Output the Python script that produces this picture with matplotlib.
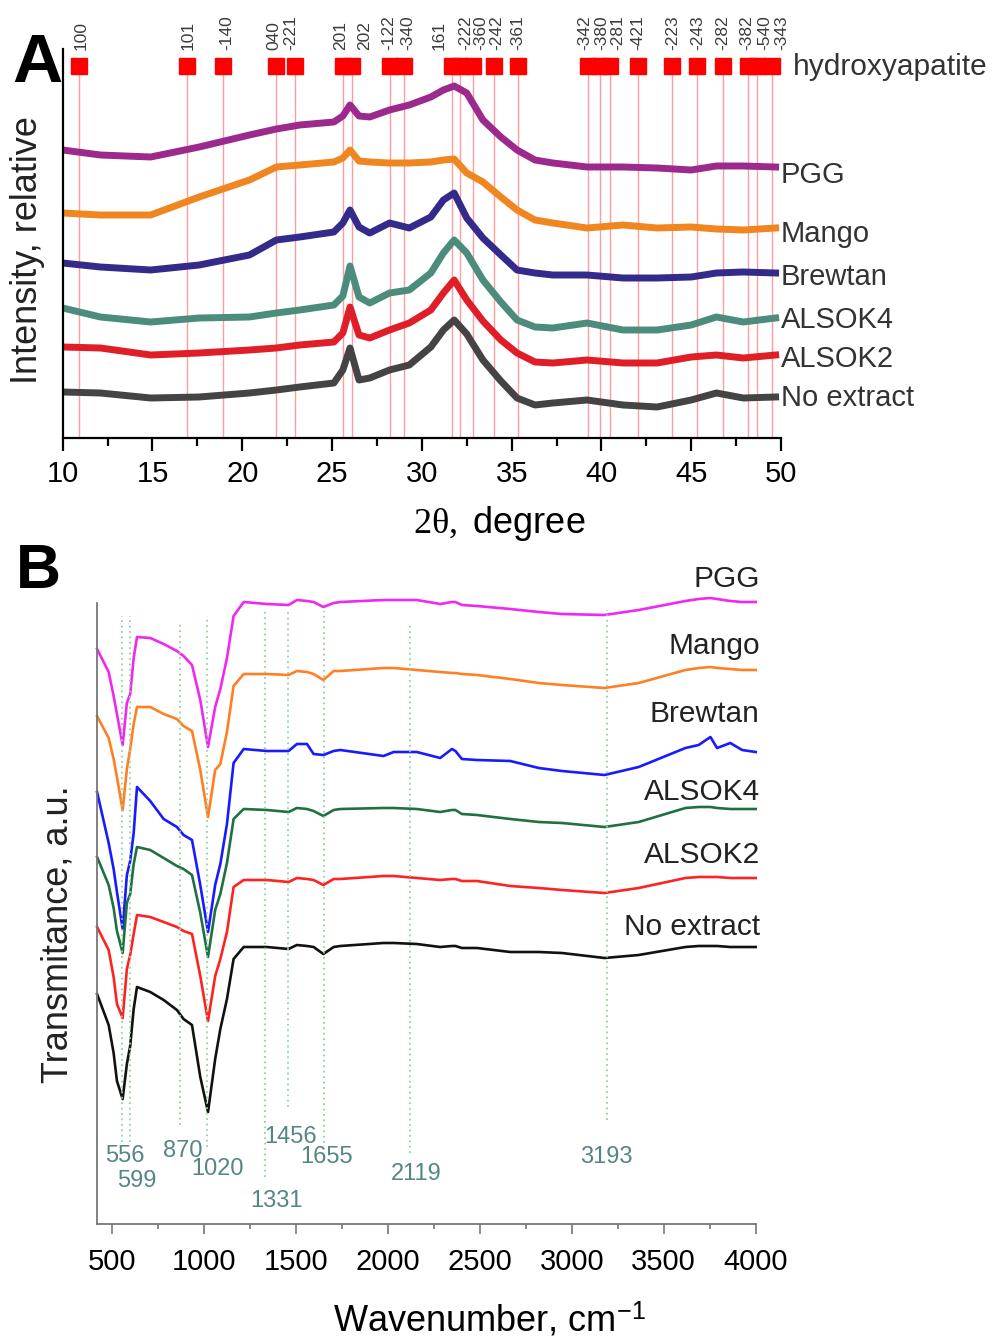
import matplotlib
matplotlib.use("Agg")
import matplotlib.pyplot as plt
from matplotlib.ticker import MultipleLocator

plt.rcParams['font.family'] = ['Liberation Sans', 'DejaVu Sans']
plt.rcParams['mathtext.fontset'] = 'custom'
plt.rcParams['mathtext.rm'] = 'Liberation Serif'
plt.rcParams['mathtext.it'] = 'Liberation Serif:italic'

# ---------------- Panel A data (XRD) ----------------
xrd_2theta = [10.0, 12.1, 14.9, 17.6, 20.4, 21.9, 23.2, 25.1, 25.6, 26.0, 26.5, 27.1, 28.2, 29.3, 30.5,
              31.2, 31.8, 32.5, 33.4, 34.4, 35.3, 36.3, 37.3, 39.2, 41.2, 43.1, 45.0, 46.4, 47.9, 49.7]
xrd_no_extract = [46, 45, 40, 41, 45, 48, 51, 55, 68, 90, 58, 60, 68, 73, 91,
                  108, 118, 104, 78, 57, 40, 33, 35, 38, 33, 31, 38, 45, 40, 41]
xrd_alsok2 = [91, 90, 83, 85, 88, 90, 93, 96, 105, 131, 103, 100, 108, 115, 128,
              145, 158, 138, 117, 98, 85, 76, 75, 78, 75, 75, 81, 83, 80, 83]
xrd_alsok4 = [130, 121, 116, 120, 121, 125, 128, 133, 142, 172, 141, 135, 145, 148, 165,
              185, 198, 185, 158, 136, 118, 111, 110, 115, 108, 108, 113, 121, 116, 120]
xrd_brewtan = [175, 171, 168, 173, 183, 198, 201, 206, 215, 228, 211, 205, 215, 210, 221,
               238, 245, 220, 200, 183, 168, 165, 163, 163, 160, 160, 161, 165, 166, 165]
xrd_mango = [225, 223, 223, 241, 258, 271, 273, 276, 280, 288, 277, 276, 275, 275, 276,
             278, 279, 265, 256, 241, 228, 218, 215, 210, 213, 210, 211, 209, 208, 210]
xrd_pgg = [288, 283, 281, 291, 303, 309, 313, 316, 322, 333, 322, 321, 328, 333, 341,
           348, 352, 345, 318, 301, 288, 278, 275, 271, 271, 270, 268, 272, 272, 271]

xrd_names = ["PGG", "Mango", "Brewtan", "ALSOK4", "ALSOK2", "No extract"]
xrd_colors = ["#9c2a8c", "#f0861f", "#342a8c", "#4b8c7c", "#e01e28", "#444444"]
xrd_label_y = [255, 196, 153, 110, 71, 32]

refl_2theta = [10.9, 16.9, 18.9, 21.9, 22.95, 25.6, 26.1, 28.2, 29.0, 31.7, 32.1, 32.85,
               34.0, 35.35, 39.25, 39.9, 40.5, 42.05, 43.95, 45.35, 46.75, 48.15, 48.65, 49.5]
refl_hkl = ['100', '101', '-140', '040', '-221', '201', '202', '-122', '-340', '161', '-222', '-360',
            '-242', '-361', '-342', '-380', '-281', '-421', '-223', '-243', '-282', '-382', '-540', '-343']
refl_label_x = [11.03, 16.96, 19.13, 21.75, 22.72, 25.48, 26.83, 28.18, 29.2, 30.95, 32.45, 33.3,
                34.15, 35.35, 39.05, 40.01, 40.9, 42.03, 43.98, 45.37, 46.76, 48.1, 49.08, 50.06]

# ---------------- Panel B data (FTIR) ----------------
ir_wn = [420, 483, 510, 528, 559, 582, 600, 619, 637, 709, 782, 854, 890, 936, 981, 1023, 1062, 1090,
         1126, 1162, 1217, 1343, 1461, 1506, 1561, 1597, 1650, 1706, 1742, 1977, 2032, 2158, 2285, 2349,
         2368, 2403, 2485, 2666, 2821, 2947, 3178, 3364, 3618, 3690, 3754, 3790, 3862, 3926, 4000]
ir_pgg = [575, 552, 528, 510, 479, 521, 530, 566, 587, 586, 580, 573, 568, 559, 524, 477, 517, 535,
          566, 608, 622, 620, 619, 624, 623, 622, 617, 621, 622, 624, 624, 624, 620, 622,
          622, 619, 618, 615, 612, 610, 609, 614, 623, 625, 626, 625, 623, 622, 622]
ir_mango = [508, 486, 465, 447, 414, 455, 475, 500, 517, 517, 510, 505, 498, 493, 454, 407, 454, 460,
            492, 538, 550, 550, 549, 553, 552, 550, 544, 553, 553, 556, 556, 554, 552, 551,
            551, 550, 549, 545, 541, 539, 536, 541, 554, 556, 557, 556, 555, 554, 554]
ir_brewtan = [432, 381, 355, 332, 295, 349, 363, 391, 437, 423, 405, 397, 389, 384, 339, 292, 339, 360,
              400, 461, 475, 473, 473, 480, 480, 470, 469, 473, 474, 468, 472, 472, 466, 475,
              473, 465, 464, 463, 456, 453, 449, 457, 476, 479, 487, 476, 481, 474, 472]
ir_alsok4 = [367, 339, 316, 293, 271, 321, 330, 360, 377, 374, 366, 358, 355, 349, 311, 267, 314, 330,
             361, 405, 415, 414, 412, 416, 415, 413, 408, 414, 415, 416, 416, 415, 412, 414,
             414, 410, 409, 405, 402, 401, 397, 402, 416, 417, 417, 416, 415, 415, 415]
ir_alsok2 = [297, 274, 247, 220, 206, 255, 269, 290, 309, 307, 302, 297, 293, 290, 248, 203, 248, 265,
             292, 337, 344, 344, 342, 346, 345, 344, 339, 345, 345, 348, 348, 346, 344, 345,
             345, 343, 343, 338, 336, 334, 331, 336, 346, 347, 347, 347, 346, 346, 346]
ir_no_extract = [230, 199, 171, 143, 125, 160, 178, 215, 237, 232, 224, 214, 205, 199, 147, 112, 165, 195,
                 225, 265, 277, 277, 275, 279, 278, 277, 270, 277, 278, 281, 281, 280, 277, 278,
                 278, 276, 276, 272, 272, 271, 266, 269, 277, 278, 278, 278, 277, 277, 277]

ir_names = ["PGG", "Mango", "Brewtan", "ALSOK4", "ALSOK2", "No extract"]
ir_colors = ["#f028f0", "#ff7f24", "#1a1aff", "#217040", "#ff2222", "#111111"]
ir_label_y = [637, 570, 502, 424, 361, 289]

ir_bands = [556, 599, 870, 1020, 1331, 1456, 1655, 2119, 3193]
ir_band_top = [608, 608, 601, 608, 613, 613, 613, 601, 614]
ir_band_bottom = [82, 82, 99, 77, 47, 117, 81, 71, 104]
ir_band_label_x = [573, 638, 885, 1072, 1393, 1474, 1670, 2154, 3187]
ir_band_label_y = [68, 43, 73, 55, 23, 87, 67, 50, 67]

W, H = 994, 1340
fig = plt.figure(figsize=(W / 100, H / 100), dpi=100)

def px_rect(x0, x1, ytop, ybot):
    return [x0 / W, (H - ybot) / H, (x1 - x0) / W, (ybot - ytop) / H]

# ---------------- Panel A ----------------
axA = fig.add_axes(px_rect(62.7, 781, 49, 438))
axA.set_xlim(10, 50)
axA.set_ylim(0, 389)
axA.vlines(refl_2theta, 0, 364, color="#ff9c9c", lw=1.0, zorder=1)
axA.plot(refl_2theta, [372] * len(refl_2theta), 's', ms=11.5, color="#ff0000",
         mec="#ff0000", clip_on=False, zorder=3)
for xl, lab in zip(refl_label_x, refl_hkl):
    axA.text(xl, 388, lab, rotation=90, ha='center', va='bottom', fontsize=12.5,
             color="#3c3c3c", clip_on=False)
xrd_values = [xrd_pgg, xrd_mango, xrd_brewtan, xrd_alsok4, xrd_alsok2, xrd_no_extract]
for name, vals, col, ly in zip(xrd_names, xrd_values, xrd_colors, xrd_label_y):
    axA.plot(xrd_2theta, vals, color=col, lw=5.0, solid_joinstyle='round', zorder=2)
    axA.text(50.0, ly, name, ha='left', va='baseline', fontsize=21, color="#333333",
             clip_on=False)
axA.text(50.67, 363, "hydroxyapatite", ha='left', va='baseline', fontsize=21.5,
         color="#333333", clip_on=False)

for s in ['top', 'right']:
    axA.spines[s].set_visible(False)
for s in ['left', 'bottom']:
    axA.spines[s].set_linewidth(1.6)
axA.set_yticks([])
axA.xaxis.set_major_locator(MultipleLocator(5))
axA.xaxis.set_minor_locator(MultipleLocator(2.5))
axA.tick_params(axis='x', which='major', direction='out', length=9, width=1.6,
                labelsize=21, pad=7)
axA.tick_params(axis='x', which='minor', direction='out', length=5.5, width=1.6)

fig.text(499.5 / W, (H - 533) / H, r"$\mathrm{2\theta,}$ degree", ha='center',
         va='baseline', fontsize=26)
fig.text(28 / W, (H - 250) / H, "Intensity, relative", rotation=90, ha='center',
         va='center', fontsize=26, color="#222222")
fig.text(12 / W, (H - 82) / H, "A", fontsize=50, fontweight='bold', ha='left',
         va='baseline')

# ---------------- Panel B ----------------
axB = fig.add_axes(px_rect(96.7, 755.7, 603, 1224))
axB.set_xlim(418, 4000)
axB.set_ylim(0, 621)
axB.vlines(ir_bands, ir_band_bottom, ir_band_top, colors="#8fd49e", linestyles=(0, (1, 2)),
           lw=1.3, zorder=3)
for xb, yb, lab in zip(ir_band_label_x, ir_band_label_y, ir_bands):
    axB.text(xb, yb, str(lab), ha='center', va='center', fontsize=17, color="#558585")
ir_values = [ir_pgg, ir_mango, ir_brewtan, ir_alsok4, ir_alsok2, ir_no_extract]
for name, vals, col, ly in zip(ir_names, ir_values, ir_colors, ir_label_y):
    axB.plot(ir_wn, vals, color=col, lw=1.9, clip_on=False, zorder=2)
    axB.text(4022, ly, name, ha='right', va='baseline', fontsize=21.5, color="#222222",
             clip_on=False)

for s in ['top', 'right']:
    axB.spines[s].set_visible(False)
for s in ['left', 'bottom']:
    axB.spines[s].set_linewidth(1.3)
    axB.spines[s].set_color("#777777")
axB.set_yticks([])
axB.xaxis.set_major_locator(MultipleLocator(500))
axB.xaxis.set_minor_locator(MultipleLocator(250))
axB.tick_params(axis='x', which='major', direction='out', length=7, width=1.2,
                color="#777777", labelsize=21, pad=10)
axB.tick_params(axis='x', which='minor', direction='out', length=3.5, width=1.2,
                color="#777777")

fig.text(489 / W, (H - 1331) / H, r"Wavenumber, cm$^{\mathregular{-1}}$", ha='center',
         va='baseline', fontsize=26)
fig.text(58 / W, (H - 934) / H, "Transmitance, a.u.", rotation=90, ha='center',
         va='center', fontsize=26, color="#222222")
fig.text(16 / W, (H - 588) / H, "B", fontsize=45, fontweight='bold', ha='left',
         va='baseline')

fig.savefig("out.png", dpi=100)
